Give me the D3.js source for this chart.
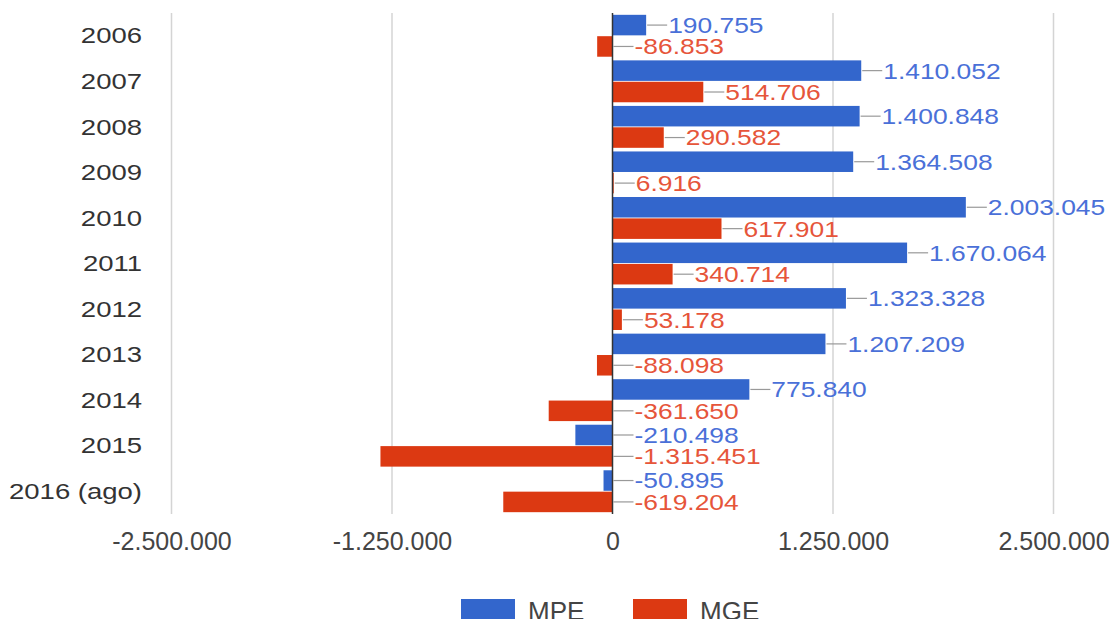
<!DOCTYPE html>
<html>
<head>
<meta charset="utf-8">
<title>MPE x MGE</title>
<script src="https://d3js.org/d3.v7.min.js"></script>
<style>
  body { margin: 0; background: #fff; }
  text { font-family: "Liberation Sans", Arial, sans-serif; }
</style>
</head>
<body>
<script>
// data
var years = ["2006", "2007", "2008", "2009", "2010", "2011", "2012", "2013", "2014", "2015", "2016 (ago)"];
var mpe = [190755, 1410052, 1400848, 1364508, 2003045, 1670064, 1323328, 1207209, 775840, -210498, -50895];
var mge = [-86853, 514706, 290582, 6916, 617901, 340714, 53178, -88098, -361650, -1315451, -619204];
var seriesNames = ["MPE", "MGE"];
var colors = ["#3366cc", "#dc3912"];
var labelColors = ["#4a70d8", "#e6553a"];
var xTicks = [-2500000, -1250000, 0, 1250000, 2500000];

var W = 1118, H = 619;
var svg = d3.select("body").append("svg")
  .attr("width", W)
  .attr("height", H);

var br = d3.formatLocale({decimal: ",", thousands: ".", grouping: [3], currency: ["R$", ""], minus: "-"});
var fmt = br.format(",d");

var x = d3.scaleLinear().domain([-2500000, 2500000]).range([171.5, 1053.5]);
var y = d3.scaleBand().domain(years).range([13, 514]).paddingInner(0.08).paddingOuter(0.04);
var y1 = d3.scaleBand().domain(seriesNames).range([0, y.bandwidth()]).paddingInner(0.04);

var rows = years.map(function(yr, i) {
  return {year: yr, vals: [
    {s: "MPE", v: mpe[i], k: 0},
    {s: "MGE", v: mge[i], k: 1}
  ]};
});

// grid
svg.append("g").selectAll("line")
  .data(xTicks.filter(function(d) { return d !== 0; }))
  .enter().append("line")
  .attr("x1", function(d) { return x(d); })
  .attr("x2", function(d) { return x(d); })
  .attr("y1", 13).attr("y2", 514)
  .attr("stroke", "#d4d4d4")
  .attr("stroke-width", 1.5);

// x tick labels
var xAxis = d3.axisBottom(x).tickValues(xTicks).tickSize(0).tickPadding(0)
  .tickFormat(function(d) { return fmt(d); });
var gx = svg.append("g").attr("transform", "translate(0,532)").call(xAxis);
gx.select(".domain").remove();
gx.selectAll("text")
  .attr("dy", "0.71em")
  .attr("fill", "#444")
  .style("font-size", "25px")
  .style("font-family", "'Liberation Sans', Arial, sans-serif");

// year labels
svg.append("g").selectAll("text")
  .data(years)
  .enter().append("text")
  .attr("transform", function(d) { return "translate(142," + (y(d) + y.bandwidth() / 2) + ") scale(1.25,1)"; })
  .attr("text-anchor", "end")
  .attr("dy", "0.35em")
  .attr("fill", "#333")
  .style("font-size", "22px")
  .text(function(d) { return d; });

// bars
var groups = svg.append("g").selectAll("g")
  .data(rows)
  .enter().append("g")
  .attr("transform", function(d) { return "translate(0," + y(d.year) + ")"; });

groups.selectAll("rect")
  .data(function(d) { return d.vals; })
  .enter().append("rect")
  .attr("x", function(d) { return x(Math.min(0, d.v)); })
  .attr("width", function(d) { return Math.abs(x(d.v) - x(0)); })
  .attr("y", function(d) { return y1(d.s); })
  .attr("height", y1.bandwidth())
  .attr("fill", function(d) { return colors[d.k]; });

// annotation stems
groups.selectAll("line")
  .data(function(d) { return d.vals; })
  .enter().append("line")
  .attr("x1", function(d) { return x(Math.max(0, d.v)) + 1; })
  .attr("x2", function(d) { return x(Math.max(0, d.v)) + 21; })
  .attr("y1", function(d) { return y1(d.s) + y1.bandwidth() / 2; })
  .attr("y2", function(d) { return y1(d.s) + y1.bandwidth() / 2; })
  .attr("stroke", "#999")
  .attr("stroke-width", 1.2);

// annotation labels
groups.selectAll("text")
  .data(function(d) { return d.vals; })
  .enter().append("text")
  .attr("transform", function(d) {
    return "translate(" + (x(Math.max(0, d.v)) + 22) + "," + (y1(d.s) + y1.bandwidth() / 2) + ") scale(1.2,1)";
  })
  .attr("dy", "0.36em")
  .attr("fill", function(d) { return labelColors[d.k]; })
  .style("font-size", "22px")
  .text(function(d) { return fmt(d.v); });

// zero line
svg.append("line")
  .attr("x1", x(0)).attr("x2", x(0))
  .attr("y1", 13).attr("y2", 514)
  .attr("stroke", "#333")
  .attr("stroke-width", 1.5);

// legend
var legendX = [461, 633];
var leg = svg.append("g").selectAll("g")
  .data(seriesNames)
  .enter().append("g")
  .attr("transform", function(d, i) { return "translate(" + legendX[i] + ",599)"; });
leg.append("rect")
  .attr("width", 54).attr("height", 24)
  .attr("fill", function(d, i) { return colors[i]; });
leg.append("text")
  .attr("x", 67).attr("y", 21)
  .attr("fill", "#444")
  .style("font-size", "26px")
  .text(function(d) { return d; });
</script>
</body>
</html>
